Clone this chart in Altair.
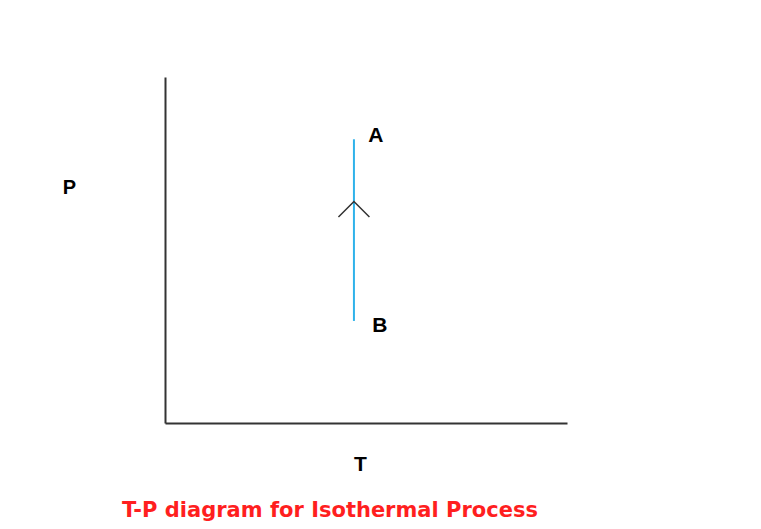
import altair as alt
import pandas as pd

# ---- data ----
T_process = [47.0]          # constant temperature of the isothermal process
P_start_B = [29.5]          # pressure at state B (lower end)
P_end_A = [82.0]            # pressure at state A (upper end)
state_labels = ["A", "B"]
state_P = [82.0, 29.5]
arrow_P = [64.0]            # where the direction arrow sits on the path

LABEL_FONT = "Liberation Sans"
TITLE_FONT = "DejaVu Sans"

process_df = pd.DataFrame({"T": T_process, "P": P_start_B, "P2": P_end_A})
labels_df = pd.DataFrame({"T": T_process * len(state_labels), "P": state_P, "label": state_labels})
arrow_df = pd.DataFrame({"T": T_process, "P": arrow_P})

x_scale = alt.Scale(domain=[0, 100], nice=False, zero=False)
y_scale = alt.Scale(domain=[0, 100], nice=False, zero=False)

x_axis = alt.Axis(
    title="T", ticks=False, labels=False, grid=False,
    domainColor="#333333", domainWidth=2,
    titleFont=LABEL_FONT, titleFontSize=21, titleFontWeight="bold", titleColor="#000000",
    titleX=195, titleY=41, titleAlign="center", titleBaseline="middle", titleAngle=0,
)
y_axis = alt.Axis(
    title="P", ticks=False, labels=False, grid=False,
    domainColor="#333333", domainWidth=2,
    titleFont=LABEL_FONT, titleFontSize=20, titleFontWeight="bold", titleColor="#000000",
    titleX=-96, titleY=110, titleAlign="center", titleBaseline="middle", titleAngle=0,
)

X = alt.X("T:Q", scale=x_scale, axis=x_axis)
Y = alt.Y("P:Q", scale=y_scale, axis=y_axis)

process = alt.Chart(process_df).mark_rule(color="#2fb2ea", strokeWidth=2).encode(
    x=X, y=Y, y2="P2:Q"
)

arrow = alt.Chart(arrow_df).mark_point(
    shape="M-1,1L0,0L1,1", size=960, filled=False,
    stroke="#333333", strokeWidth=1.5, opacity=1,
).encode(x=X, y=Y)

label_A = alt.Chart(labels_df).transform_filter(alt.datum.label == "A").mark_text(
    font=LABEL_FONT, fontSize=21, fontWeight="bold", color="#000000",
    align="center", baseline="middle", dx=22, dy=-3,
).encode(x=X, y=Y, text="label:N")

label_B = alt.Chart(labels_df).transform_filter(alt.datum.label == "B").mark_text(
    font=LABEL_FONT, fontSize=21, fontWeight="bold", color="#000000",
    align="center", baseline="middle", dx=26, dy=5,
).encode(x=X, y=Y, text="label:N")

chart = (
    alt.layer(process, arrow, label_A, label_B)
    .properties(
        width=402,
        height=346,
        title=alt.TitleParams(
            text="T-P diagram for Isothermal Process",
            orient="bottom", anchor="middle", frame="group",
            font=TITLE_FONT, fontSize=21, fontWeight="bold", color="#ff1f1f",
            offset=26, dx=-36,
        ),
        autosize=alt.AutoSizeParams(type="none"),
        padding={"left": 157, "top": 69, "right": 186, "bottom": 98},
        background="#ffffff",
    )
    .configure_view(stroke=None)
)

chart.save("out.html", embed_options={"renderer": "svg", "actions": False})
